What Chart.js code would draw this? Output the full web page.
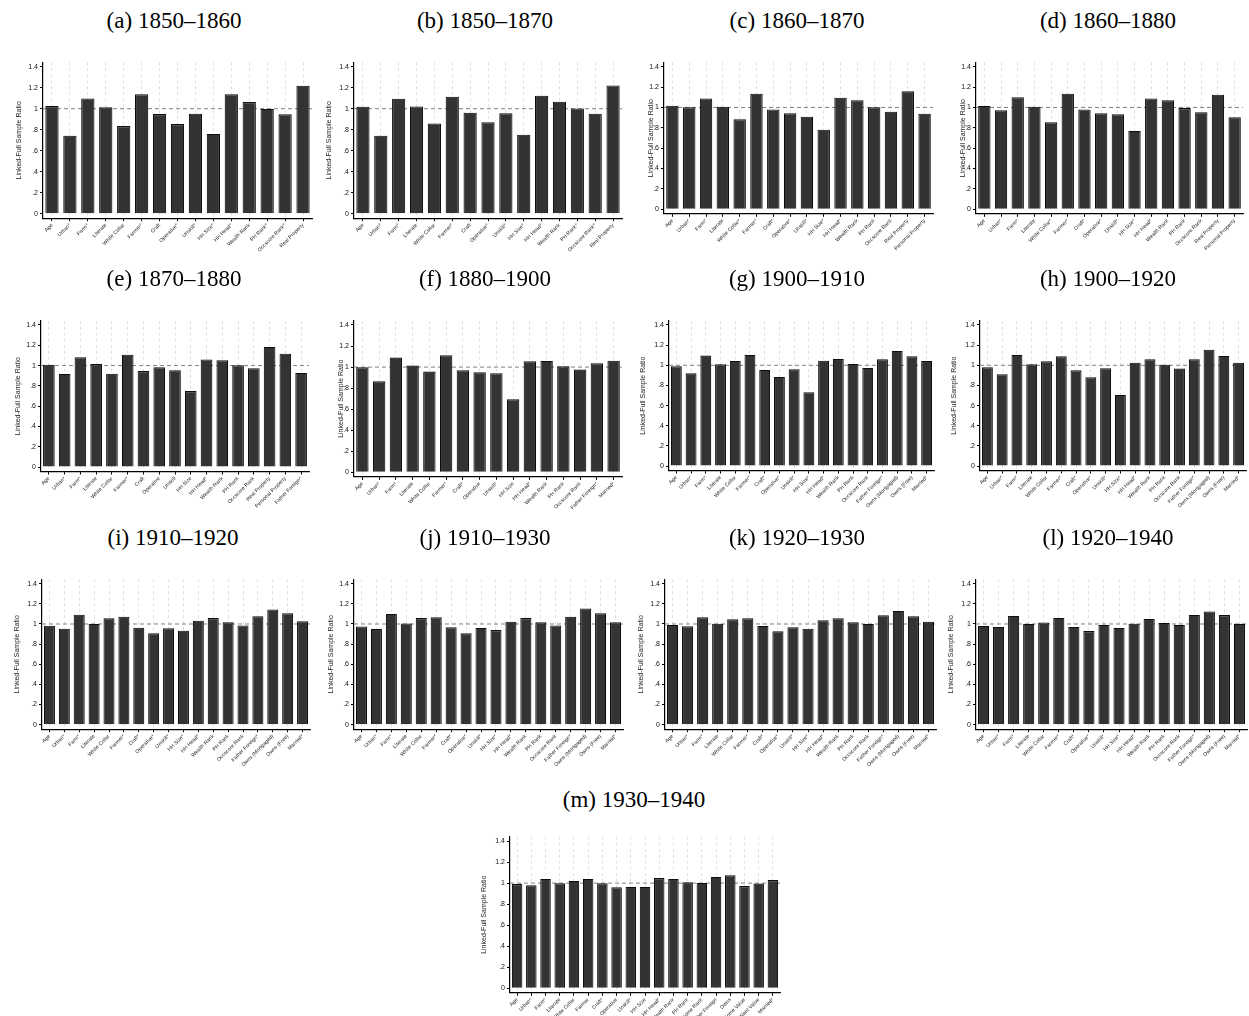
<!DOCTYPE html>
<html>
<head>
<meta charset="utf-8">
<script src="https://cdn.jsdelivr.net/npm/chart.js@4.4.1/dist/chart.umd.min.js"></script>
<style>
  html, body { margin: 0; padding: 0; background: #fff; }
  body { width: 1249px; height: 1016px; position: relative; overflow: hidden; }
  .ttl {
    position: absolute;
    font-family: "Liberation Serif", "Times New Roman", serif;
    font-size: 23px;
    color: #000;
    white-space: nowrap;
    transform: translate(-50%, -50%);
  }
  canvas { position: absolute; }
</style>
</head>
<body>
<script>
// ---- Variable sets used in each comparison ----
const labels1850 = ['Age', 'Urban*', 'Farm*', 'Literate', 'White Collar', 'Farmer*', 'Craft', 'Operative*',
  'Unskill*', 'HH Size*', 'HH Head*', 'Wealth Rank', 'PH Rank*', 'Occscore Rank*', 'Real Property'];
const labels1860 = ['Age', 'Urban*', 'Farm*', 'Literate', 'White Collar*', 'Farmer*', 'Craft*', 'Operative*',
  'Unskill*', 'HH Size*', 'HH Head*', 'Wealth Rank', 'PH Rank', 'Occscore Rank', 'Real Property', 'Personal Property'];
const labels1870 = ['Age', 'Urban*', 'Farm*', 'Literate', 'White Collar', 'Farmer*', 'Craft', 'Operative',
  'Unskill', 'HH Size', 'HH Head*', 'Wealth Rank', 'PH Rank', 'Occscore Rank', 'Real Property',
  'Personal Property', 'Father Foreign*'];
const labels1880 = ['Age', 'Urban*', 'Farm*', 'Literate', 'White Collar', 'Farmer*', 'Craft*', 'Operative',
  'Unskill*', 'HH Size', 'HH Head*', 'Wealth Rank', 'PH Rank', 'Occscore Rank', 'Father Foreign*', 'Married*'];
const labels1900 = ['Age', 'Urban*', 'Farm*', 'Literate', 'White Collar', 'Farmer*', 'Craft*', 'Operative*',
  'Unskill*', 'HH Size*', 'HH Head*', 'Wealth Rank', 'PH Rank', 'Occscore Rank', 'Father Foreign*',
  'Owns (Mortgaged)', 'Owns (Free)', 'Married*'];
const labels1930 = ['Age', 'Urban*', 'Farm*', 'Literate', 'White Collar', 'Farmer', 'Craft*', 'Operative',
  'Unskill*', 'HH Size', 'HH Head*', 'Wealth Rank', 'PH Rank', 'Income Rank', 'Father Foreign',
  'Owns', 'Home Value', 'Rent Value', 'Married*'];

// ---- Linked / full sample ratios ----
const ratio1850_1860 = [1.025, 0.743, 1.098, 1.013, 0.835, 1.137, 0.949, 0.854, 0.952, 0.759, 1.137, 1.063, 0.997, 0.946, 1.219];
const ratio1850_1870 = [1.019, 0.743, 1.095, 1.022, 0.860, 1.114, 0.962, 0.870, 0.956, 0.752, 1.124, 1.067, 1.003, 0.952, 1.222];
const ratio1860_1870 = [1.017, 1.001, 1.089, 1.008, 0.883, 1.135, 0.981, 0.942, 0.909, 0.782, 1.096, 1.070, 1.001, 0.958, 1.158, 0.939];
const ratio1860_1880 = [1.014, 0.972, 1.099, 1.008, 0.854, 1.135, 0.981, 0.942, 0.932, 0.769, 1.089, 1.070, 0.994, 0.952, 1.125, 0.903];
const ratio1870_1880 = [1.009, 0.917, 1.081, 1.015, 0.920, 1.107, 0.946, 0.983, 0.953, 0.749, 1.061, 1.052, 1.002, 0.973, 1.183, 1.117, 0.927];
const ratio1880_1900 = [0.998, 0.865, 1.090, 1.014, 0.957, 1.112, 0.969, 0.950, 0.941, 0.694, 1.055, 1.058, 1.007, 0.976, 1.036, 1.061];
const ratio1900_1910 = [0.990, 0.920, 1.096, 1.010, 1.043, 1.102, 0.953, 0.884, 0.960, 0.732, 1.046, 1.063, 1.013, 0.973, 1.059, 1.142, 1.089, 1.043];
const ratio1900_1920 = [0.980, 0.910, 1.102, 1.010, 1.039, 1.089, 0.950, 0.880, 0.970, 0.705, 1.026, 1.059, 1.006, 0.967, 1.059, 1.155, 1.092, 1.026];
const ratio1910_1920 = [0.983, 0.953, 1.092, 1.000, 1.056, 1.073, 0.963, 0.907, 0.957, 0.933, 1.033, 1.059, 1.016, 0.986, 1.076, 1.145, 1.106, 1.026];
const ratio1910_1930 = [0.976, 0.950, 1.099, 1.006, 1.059, 1.066, 0.967, 0.907, 0.960, 0.940, 1.023, 1.059, 1.016, 0.986, 1.073, 1.155, 1.106, 1.016];
const ratio1920_1930 = [0.990, 0.977, 1.066, 1.003, 1.046, 1.056, 0.980, 0.927, 0.967, 0.953, 1.036, 1.056, 1.016, 1.000, 1.086, 1.129, 1.076, 1.023];
const ratio1920_1940 = [0.980, 0.970, 1.080, 1.000, 1.015, 1.060, 0.970, 0.930, 0.990, 0.960, 1.003, 1.050, 1.010, 0.990, 1.090, 1.125, 1.088, 1.002];
const ratio1930_1940 = [0.991, 0.979, 1.039, 0.998, 1.020, 1.039, 0.998, 0.960, 0.963, 0.963, 1.048, 1.039, 1.007, 1.001, 1.058, 1.074, 0.972, 0.995, 1.029];

// ---- Panel captions ----
const panelTitles = ['(a) 1850–1860', '(b) 1850–1870', '(c) 1860–1870', '(d) 1860–1880',
  '(e) 1870–1880', '(f) 1880–1900', '(g) 1900–1910', '(h) 1900–1920',
  '(i) 1910–1920', '(j) 1910–1930', '(k) 1920–1930', '(l) 1920–1940', '(m) 1930–1940'];

// ---- Y axis ticks ----
const yTickValues = [0, 0.2, 0.4, 0.6, 0.8, 1, 1.2, 1.4];
const yTickLabels = ['0', '.2', '.4', '.6', '.8', '1', '1.2', '1.4'];
const refValue = 1;
const yAxisTitle = 'Linked-Full Sample Ratio';

const panelData = [
  [labels1850, ratio1850_1860], [labels1850, ratio1850_1870],
  [labels1860, ratio1860_1870], [labels1860, ratio1860_1880],
  [labels1870, ratio1870_1880], [labels1880, ratio1880_1900],
  [labels1900, ratio1900_1910], [labels1900, ratio1900_1920],
  [labels1900, ratio1910_1920], [labels1900, ratio1910_1930],
  [labels1900, ratio1920_1930], [labels1900, ratio1920_1940],
  [labels1930, ratio1930_1940]
];

// ---- Page layout: axis x, plot right, pixel of 1.4, pixel of 0, title gap, caption centre ----
const layoutGrid = [
  { ax: 43,  right: 312,  top: 66.7,  zero: 213.7, gap: 23,   cx: 174,  cy: 21 },
  { ax: 354, right: 622,  top: 66.7,  zero: 213.7, gap: 24,   cx: 485,  cy: 21 },
  { ax: 664, right: 933,  top: 66.7,  zero: 209.3, gap: 12.6, cx: 797,  cy: 21 },
  { ax: 976, right: 1243, top: 66.7,  zero: 209.3, gap: 12.7, cx: 1108, cy: 21 },
  { ax: 41,  right: 309,  top: 325,   zero: 467,   gap: 22.7, cx: 174,  cy: 279 },
  { ax: 354, right: 622,  top: 325,   zero: 472.3, gap: 12.6, cx: 485,  cy: 279 },
  { ax: 669, right: 934,  top: 325,   zero: 466,   gap: 25,   cx: 797,  cy: 279 },
  { ax: 980, right: 1246, top: 325,   zero: 466,   gap: 25,   cx: 1108, cy: 279 },
  { ax: 42,  right: 310,  top: 583.7, zero: 724.7, gap: 24,   cx: 173,  cy: 538 },
  { ax: 354, right: 623,  top: 583.7, zero: 724.7, gap: 22.6, cx: 485,  cy: 538 },
  { ax: 665, right: 936,  top: 583.7, zero: 724.7, gap: 23.6, cx: 797,  cy: 538 },
  { ax: 976, right: 1247, top: 583.7, zero: 724.7, gap: 24,   cx: 1108, cy: 538 },
  { ax: 510, right: 780,  top: 841,   zero: 988.3, gap: 25,   cx: 634,  cy: 800 }
];

const SANS = '"Liberation Sans", Arial, Helvetica, sans-serif';
const GAP_ABOVE = 4.3;   // axis extends above 1.4
const GAP_BELOW = 4.5;   // x axis sits a little below 0
const X_AXIS_H = 50;     // room for slanted category labels
const TITLE_SIZE = 7;

// Dashed reference line at a ratio of one
const refLinePlugin = {
  id: 'refLine',
  beforeDatasetsDraw(chart) {
    const { ctx, chartArea, scales } = chart;
    const py = scales.y.getPixelForValue(refValue);
    ctx.save();
    ctx.strokeStyle = '#808080';
    ctx.lineWidth = 1;
    ctx.setLineDash([4, 3]);
    ctx.beginPath();
    ctx.moveTo(chartArea.left, py);
    ctx.lineTo(chartArea.right, py);
    ctx.stroke();
    ctx.restore();
  }
};

function makePanel(i) {
  const g = layoutGrid[i];
  const [labels, values] = panelData[i];

  const cap = document.createElement('div');
  cap.className = 'ttl';
  cap.textContent = panelTitles[i];
  cap.style.left = g.cx + 'px';
  cap.style.top = g.cy + 'px';
  document.body.appendChild(cap);

  const pxPerUnit = (g.zero - g.top) / 1.4;
  const yMin = -GAP_BELOW / pxPerUnit;
  const yMax = 1.4 + GAP_ABOVE / pxPerUnit;

  const yW0 = g.gap + TITLE_SIZE * 1.2 / 2;
  const cLeft = Math.floor(g.ax - yW0);
  const yW = g.ax - cLeft;
  const areaTop = g.top - GAP_ABOVE;
  const areaBottom = g.zero + GAP_BELOW;
  const cTop = Math.floor(areaTop - 6);
  const padTop = areaTop - cTop;
  const cHeight = Math.ceil(areaBottom - cTop + X_AXIS_H);
  const padBottom = cHeight - (areaBottom - cTop) - X_AXIS_H;
  const cWidth = Math.ceil(g.right - cLeft + 4);
  const padRight = cWidth - (g.right - cLeft);

  const cv = document.createElement('canvas');
  cv.width = cWidth;
  cv.height = cHeight;
  cv.style.left = cLeft + 'px';
  cv.style.top = cTop + 'px';
  cv.style.width = cWidth + 'px';
  cv.style.height = cHeight + 'px';
  document.body.appendChild(cv);

  new Chart(cv, {
    type: 'bar',
    data: {
      labels: labels,
      datasets: [{
        data: values,
        backgroundColor: '#333333',
        borderColor: '#0d0d0d',
        borderWidth: 1.1,
        barPercentage: 0.74,
        categoryPercentage: 1
      }]
    },
    options: {
      responsive: false,
      animation: false,
      devicePixelRatio: 1,
      layout: { padding: { left: 0, right: padRight, top: padTop, bottom: padBottom } },
      plugins: { legend: { display: false }, tooltip: { enabled: false } },
      scales: {
        x: {
          grid: {
            display: true, drawOnChartArea: true, offset: false,
            color: '#d9d9d9', lineWidth: 0.8,
            drawTicks: true, tickLength: 3, tickColor: '#000', tickWidth: 1
          },
          border: { display: true, color: '#000', width: 1.2, dash: [3, 3] },
          ticks: {
            autoSkip: false, minRotation: 45, maxRotation: 45, padding: 1,
            color: '#222', font: { family: SANS, size: 5.2 }
          },
          afterFit(s) { s.height = X_AXIS_H; }
        },
        y: {
          min: yMin, max: yMax,
          afterBuildTicks(s) { s.ticks = yTickValues.map(v => ({ value: v })); },
          grid: { display: true, drawOnChartArea: false, drawTicks: true, tickLength: 3, tickColor: '#000', tickWidth: 1 },
          border: { display: true, color: '#000', width: 1.2 },
          ticks: {
            padding: 2, color: '#111', font: { family: SANS, size: 7 },
            callback(value, index) { return yTickLabels[index]; }
          },
          title: {
            display: true, text: yAxisTitle, padding: 0,
            color: '#222', font: { family: SANS, size: TITLE_SIZE }
          },
          afterFit(s) { s.width = yW; }
        }
      }
    },
    plugins: [refLinePlugin]
  });
}

for (let i = 0; i < panelData.length; i++) makePanel(i);
</script>
</body>
</html>
